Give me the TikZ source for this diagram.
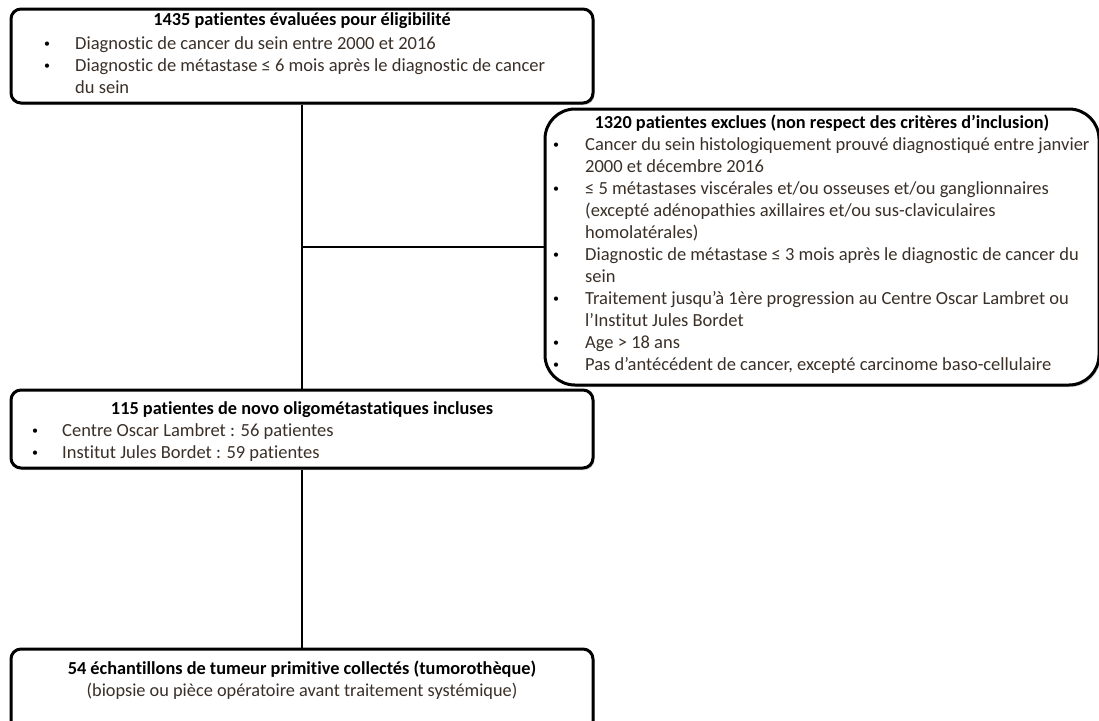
\documentclass[tikz,border=0pt]{standalone}
\usepackage{fontspec}
\setmainfont{Carlito}[Ligatures=CommonOff]
\usetikzlibrary{shadows}
\definecolor{txtc}{RGB}{58,48,40}
\begin{document}
\begin{tikzpicture}[x=1pt,y=-1pt,
  box/.style={draw=black,line width=3pt,rounded corners=10pt,fill=white,inner sep=0pt,
     drop shadow={shadow xshift=1.5pt,shadow yshift=-2pt,opacity=0.18,fill=black}},
  txt/.style={anchor=base west,inner sep=0pt,text=txtc,font=\fontsize{18.5}{22}\selectfont},
  bul/.style={anchor=base,inner sep=0pt,font=\fontsize{12}{22}\selectfont},
  ttl/.style={anchor=base,inner sep=0pt,font=\fontsize{18.3}{22}\selectfont\bfseries},
  ctr/.style={anchor=base,inner sep=0pt,text=txtc,font=\fontsize{18.3}{22}\selectfont},
  link/.style={line width=2.5pt}]
\useasboundingbox (0,0) rectangle (1099,720);
\clip (0,0) rectangle (1099,720);
% boxes
\node[box,minimum width=582pt,minimum height=94pt] (b1) at (302,56) {};
\node[box,rounded corners=30pt,minimum width=554pt,minimum height=276pt] (b2) at (822,247) {};
\node[box,minimum width=582pt,minimum height=78pt] (b3) at (302,429) {};
\node[box,minimum width=582pt,minimum height=90pt] (b4) at (302,694) {};
% connectors
\draw[link] (b1.south) -- (b3.north);
\coordinate (j) at (b1.south |- b2.west);
\draw[link] (j) -- (b2.west);
\draw[link] (b3.south) -- (b4.north);
% box 1 text
\node[ttl] (t1) at (302,25) {1435 patientes évaluées pour éligibilité};
\node[bul] (p11) at (47,47) {•};
\node[txt] (t11) at (75,49) {Diagnostic de cancer du sein entre 2000 et 2016};
\node[bul] (p12) at (47,69) {•};
\node[txt] (t12) at (75,71) {Diagnostic de métastase ≤ 6 mois après le diagnostic de cancer};
\node[txt] (t13) at (75,93) {du sein};
% box 2 text
\node[ttl] (t2) at (822,128) {1320 patientes exclues (non respect des critères d’inclusion)};
\node[bul] (p21) at (556,148) {•};
\node[txt] (t21) at (585,150) {Cancer du sein histologiquement prouvé diagnostiqué entre janvier};
\node[txt] (t22) at (585,172) {2000 et décembre 2016};
\node[bul] (p22) at (556,192) {•};
\node[txt] (t23) at (585,194) {≤ 5 métastases viscérales et/ou osseuses et/ou ganglionnaires};
\node[txt] (t24) at (585,216) {(excepté adénopathies axillaires et/ou sus-claviculaires};
\node[txt] (t25) at (585,238) {homolatérales)};
\node[bul] (p23) at (556,258) {•};
\node[txt] (t26) at (585,260) {Diagnostic de métastase ≤ 3 mois après le diagnostic de cancer du};
\node[txt] (t27) at (585,282) {sein};
\node[bul] (p24) at (556,302) {•};
\node[txt] (t28) at (585,304) {Traitement jusqu’à 1ère progression au Centre Oscar Lambret ou};
\node[txt] (t29) at (585,326) {l’Institut Jules Bordet};
\node[bul] (p25) at (556,346) {•};
\node[txt] (t210) at (585,348) {Age > 18 ans};
\node[bul] (p26) at (556,368) {•};
\node[txt] (t211) at (585,370) {Pas d’antécédent de cancer, excepté carcinome baso-cellulaire};
% box 3 text
\node[ttl] (t3) at (302,414) {115 patientes de novo oligométastatiques incluses};
\node[bul] (p31) at (35,434) {•};
\node[txt] (t31) at (62,436) {Centre Oscar Lambret : 56 patientes};
\node[bul] (p32) at (35,456) {•};
\node[txt] (t32) at (62,458) {Institut Jules Bordet : 59 patientes};
% box 4 text
\node[ttl] (t4) at (302,674) {54 échantillons de tumeur primitive collectés (tumorothèque)};
\node[ctr] (t41) at (302,696) {(biopsie ou pièce opératoire avant traitement systémique)};
\end{tikzpicture}
\end{document}
